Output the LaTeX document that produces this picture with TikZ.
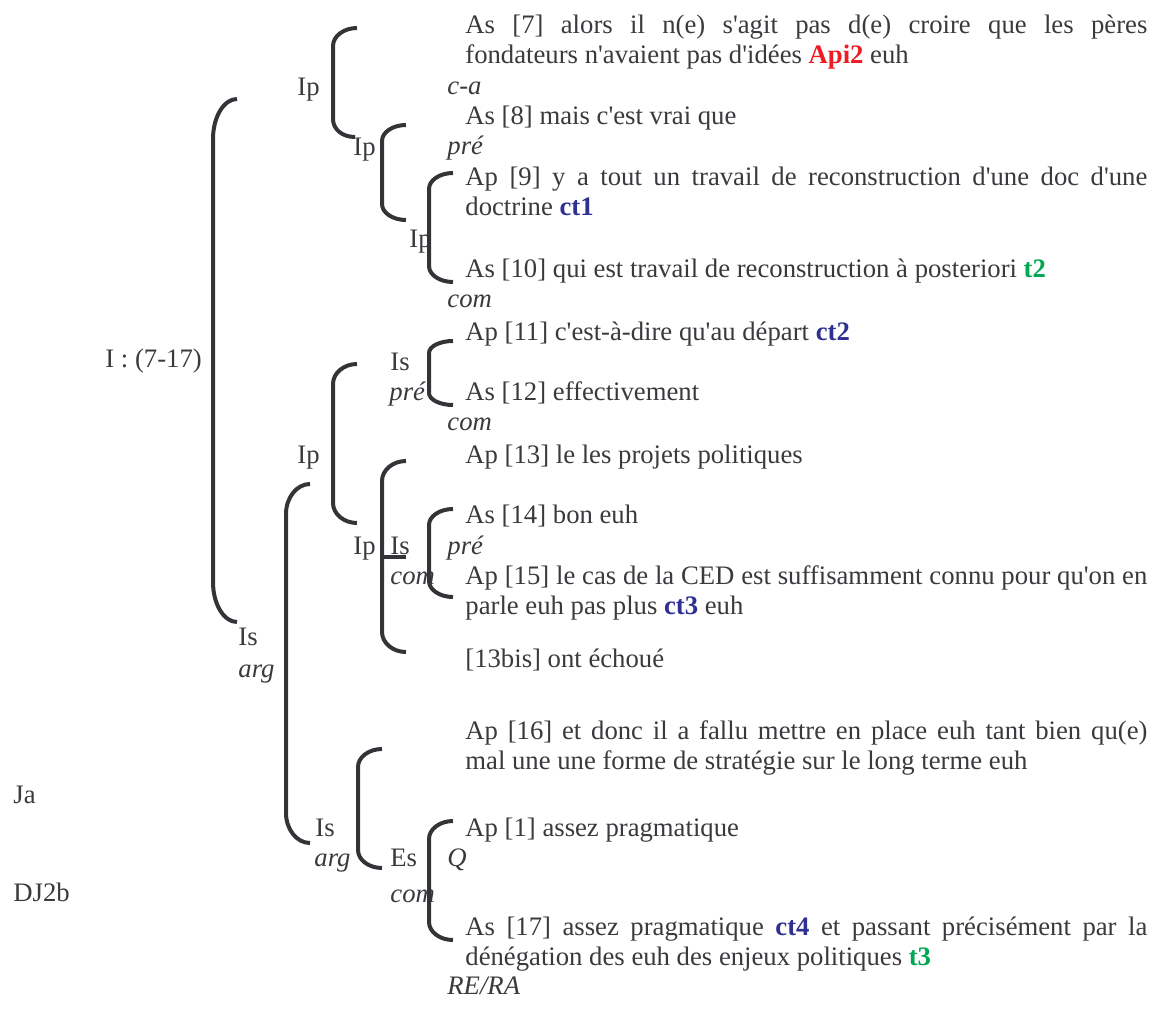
\documentclass[tikz,border=0pt]{standalone}
\usepackage{fontspec}
\setmainfont{Liberation Serif}[Ligatures=TeXOff]
\usetikzlibrary{calc}
\definecolor{txtgray}{RGB}{58,58,62}
\definecolor{lngray}{RGB}{52,52,56}
\definecolor{apred}{RGB}{237,28,36}
\definecolor{ctblue}{RGB}{46,49,146}
\definecolor{tgreen}{RGB}{0,166,81}
\newcommand{\mk}[2]{\textcolor{#1}{\textbf{#2}}}

\begin{document}
\begin{tikzpicture}[x=0.5pt,y=-0.5pt,
  every node/.style={inner sep=0pt,anchor=base west,text=txtgray,
    font=\fontsize{13.35}{15}\selectfont},
  fn/.style={font=\fontsize{13.35}{15}\selectfont\itshape},
  prose/.style={text width=341pt,align=justify},
  bkt/.style={line width=2pt,draw=lngray,to path={
    let \p1=(\tikztostart),\p2=(\tikztotarget) in
    (\p1) .. controls (\x1-6.6pt,\y1) and (\x1-12pt,\y1-0.45*#1) .. (\x1-12pt,\y1-#1)
    -- (\x1-12pt,\y2+#1) .. controls (\x1-12pt,\y2+0.45*#1) and (\x2-6.6pt,\y2) .. (\p2)}}]
  \useasboundingbox (0,0) rectangle (1152,1012);

  \node (root) at (105,367) {I : (7-17)};
  \node (ja) at (13,803) {Ja};
  \node (dj) at (13,901) {DJ2b};

  \node (ip1) at (297,95) {Ip};
  \node (ip2) at (353,155) {Ip};
  \node (ip3) at (409,247) {Ip};
  \node (is4) at (390,370) {Is};
  \node[fn] (is4f) at (389,400) {pré};
  \node (ip5) at (297,463) {Ip};
  \node (ip6) at (353,554) {Ip};
  \node (is6) at (390,554) {Is};
  \node[fn] (is6f) at (390,584) {com};
  \node (is7) at (238,645) {Is};
  \node[fn] (is7f) at (238,677) {arg};
  \node (is8) at (315,836) {Is};
  \node[fn] (is8f) at (314,866) {arg};
  \node (es) at (390,866) {Es};
  \node[fn] (esf) at (390,902) {com};

  \node[fn] (f7) at (447,94) {c-a};
  \node[fn] (f8) at (447,154) {pré};
  \node[fn] (f10) at (447,307) {com};
  \node[fn] (f12) at (447,430) {com};
  \node[fn] (f14) at (447,554) {pré};
  \node[fn] (f1) at (447,866) {Q};
  \node[fn] (f17) at (447,994) {RE/RA};

  \node[prose] (t7) at (465,33) {As [7] alors il n(e) s'agit pas d(e) croire que les pères\linebreak
    fondateurs n'avaient pas d'idées \mk{apred}{Api2} euh};
  \node (t8) at (465,124) {As [8] mais c'est vrai que};
  \node[prose] (t9) at (465,185) {Ap [9] y a tout un travail de reconstruction d'une doc d'une\linebreak
    doctrine \mk{ctblue}{ct1}};
  \node (t10) at (465,277) {As [10] qui est travail de reconstruction à posteriori \mk{tgreen}{t2}};
  \node (t11) at (465,340) {Ap [11] c'est-à-dire qu'au départ \mk{ctblue}{ct2}};
  \node (t12) at (465,400) {As [12] effectivement};
  \node (t13) at (465,463) {Ap [13] le les projets politiques};
  \node (t14) at (465,523) {As [14] bon euh};
  \node[prose] (t15) at (465,584) {Ap [15] le cas de la CED est suffisamment connu pour qu'on en\linebreak
    parle euh pas plus \mk{ctblue}{ct3} euh};
  \node (t13b) at (465,667) {[13bis] ont échoué};
  \node[prose] (t16) at (465,739) {Ap [16] et donc il a fallu mettre en place euh tant bien qu(e)\linebreak
    mal une une forme de stratégie sur le long terme euh};
  \node (t1) at (465,836) {Ap [1] assez pragmatique};
  \node[prose] (t17) at (465,935) {As [17] assez pragmatique \mk{ctblue}{ct4} et passant précisément par la\linebreak
    dénégation des euh des enjeux politiques \mk{tgreen}{t3}};

  \coordinate (k0a) at (237,99);   \coordinate (k0b) at (237,622);
  \coordinate (k1a) at (357,28);   \coordinate (k1b) at (355,137);
  \coordinate (k2a) at (406,125);  \coordinate (k2b) at (406,220);
  \coordinate (k3a) at (453,173);  \coordinate (k3b) at (453,282);
  \coordinate (k4a) at (453,341);  \coordinate (k4b) at (453,405);
  \coordinate (k5a) at (357,364);  \coordinate (k5b) at (357,523);
  \coordinate (k6a) at (406,461);  \coordinate (k6b) at (406,652);
  \coordinate (k6m) at (382,557);  \coordinate (k6n) at (406,557);
  \coordinate (k7a) at (453,509);  \coordinate (k7b) at (453,597);
  \coordinate (k8a) at (310,484);  \coordinate (k8b) at (310,843);
  \coordinate (k9a) at (382,749);  \coordinate (k9b) at (382,868);
  \coordinate (k10a) at (453,821); \coordinate (k10b) at (453,940);

  \draw[bkt=20pt] (k0a) to (k0b);
  \draw[bkt=9pt] (k1a) to (k1b);
  \draw[bkt=8pt] (k2a) to (k2b);
  \draw[bkt=8pt] (k3a) to (k3b);
  \draw[bkt=6pt] (k4a) to (k4b);
  \draw[bkt=10pt] (k5a) to (k5b);
  \draw[bkt=10pt] (k6a) to (k6b);
  \draw[line width=2pt,draw=lngray] (k6m) -- (k6n);
  \draw[bkt=8pt] (k7a) to (k7b);
  \draw[bkt=15pt] (k8a) to (k8b);
  \draw[bkt=9pt] (k9a) to (k9b);
  \draw[bkt=9pt] (k10a) to (k10b);
\end{tikzpicture}
\end{document}
